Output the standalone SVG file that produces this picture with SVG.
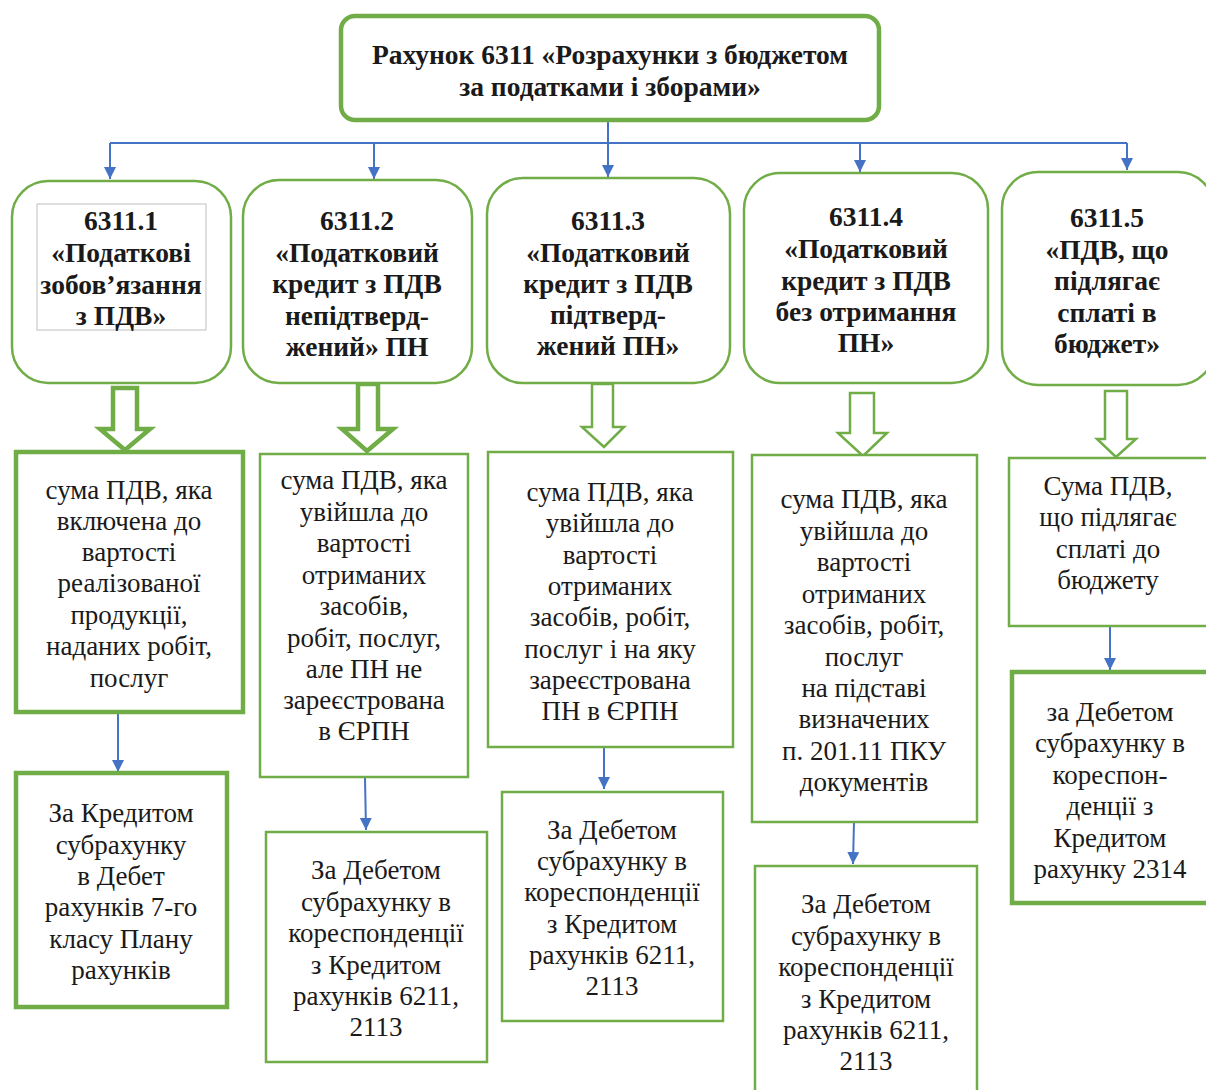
<svg xmlns="http://www.w3.org/2000/svg" width="1206" height="1090" viewBox="0 0 1206 1090">
<style>
.g{fill:#fff;stroke:#70AD47}
.thick{stroke-width:4.5}
.thin{stroke-width:2.5}
.c{fill:none;stroke:#4472C4;stroke-width:2}
.b{font-family:"Liberation Serif",serif;font-weight:bold;font-size:27.5px;fill:#1a1a1a;text-anchor:middle}
.r{font-family:"Liberation Serif",serif;font-size:27px;fill:#1a1a1a;text-anchor:middle}
.t{font-family:"Liberation Serif",serif;font-weight:bold;font-size:27.5px;fill:#1a1a1a;text-anchor:middle}
</style>
<defs>
<marker id="ah" markerWidth="14" markerHeight="14" refX="12" refY="6" orient="auto" markerUnits="userSpaceOnUse">
<path d="M0,0 L12,6 L0,12 z" fill="#4472C4"/>
</marker>
</defs>
<rect width="1206" height="1090" fill="#fff"/>

<g id="connectors">
<line class="c" x1="608" y1="120" x2="608" y2="143"/>
<line class="c" x1="110" y1="143" x2="1127" y2="143"/>
<line class="c" x1="110" y1="143" x2="110" y2="179" marker-end="url(#ah)"/>
<line class="c" x1="374" y1="143" x2="374" y2="179" marker-end="url(#ah)"/>
<line class="c" x1="608" y1="143" x2="608" y2="177" marker-end="url(#ah)"/>
<line class="c" x1="860" y1="143" x2="860" y2="172" marker-end="url(#ah)"/>
<line class="c" x1="1127" y1="143" x2="1127" y2="170" marker-end="url(#ah)"/>
<line class="c" x1="118" y1="712" x2="118" y2="772" marker-end="url(#ah)"/>
<line class="c" x1="365" y1="778" x2="366" y2="830" marker-end="url(#ah)"/>
<line class="c" x1="604" y1="747" x2="604" y2="789" marker-end="url(#ah)"/>
<line class="c" x1="854" y1="821" x2="853" y2="864" marker-end="url(#ah)"/>
<line class="c" x1="1110" y1="624" x2="1110" y2="670" marker-end="url(#ah)"/>
<polygon class="g thick" points="113,388 137,388 137,429 150,429 125,450 100,429 113,429"/>
<polygon class="g thick" points="358,384 378,384 378,429 393,429 367,451 342,429 358,429"/>
<polygon class="g thin" points="592,384 613,384 613,427 624,427 604,447 582,427 592,427"/>
<polygon class="g thin" points="850,393 874,393 874,433 887,433 863,456 838,433 850,433"/>
<polygon class="g thin" points="1105,391 1127,391 1127,439 1136,439 1116,457 1097,439 1105,439"/>
</g>

<g id="root">
<rect class="g thick" x="341" y="16" width="538" height="104" rx="14"/>
<text class="t" x="610" y="64">Рахунок 6311 «Розрахунки з бюджетом</text>
<text class="t" x="610" y="96">за податками і зборами»</text>
</g>

<g id="n6311_1">
<rect class="g thin" x="12" y="181" width="219" height="202" rx="36"/>
<rect x="37" y="204" width="169" height="126" fill="#fff" stroke="#bfbfbf" stroke-width="1"/>
<text class="b" x="121" y="230">6311.1</text>
<text class="b" x="121" y="262">«Податкові</text>
<text class="b" x="121" y="294">зобов’язання</text>
<text class="b" x="121" y="325">з ПДВ»</text>
</g>

<g id="n6311_2">
<rect class="g thin" x="243" y="180" width="229" height="203" rx="36"/>
<text class="b" x="357" y="230">6311.2</text>
<text class="b" x="357" y="262">«Податковий</text>
<text class="b" x="357" y="293">кредит з ПДВ</text>
<text class="b" x="357" y="325">непідтверд-</text>
<text class="b" x="357" y="356">жений» ПН</text>
</g>

<g id="n6311_3">
<rect class="g thin" x="487" y="178" width="243" height="205" rx="36"/>
<text class="b" x="608" y="230">6311.3</text>
<text class="b" x="608" y="262">«Податковий</text>
<text class="b" x="608" y="293">кредит з ПДВ</text>
<text class="b" x="608" y="324">підтверд-</text>
<text class="b" x="608" y="355">жений ПН»</text>
</g>

<g id="n6311_4">
<rect class="g thin" x="744" y="173" width="244" height="210" rx="36"/>
<text class="b" x="866" y="226">6311.4</text>
<text class="b" x="866" y="258">«Податковий</text>
<text class="b" x="866" y="290">кредит з ПДВ</text>
<text class="b" x="866" y="321">без отримання</text>
<text class="b" x="866" y="352">ПН»</text>
</g>

<g id="n6311_5">
<rect class="g thin" x="1002" y="172" width="212" height="213" rx="36"/>
<text class="b" x="1107" y="227">6311.5</text>
<text class="b" x="1107" y="259">«ПДВ, що</text>
<text class="b" x="1107" y="290">підлягає</text>
<text class="b" x="1107" y="322">сплаті в</text>
<text class="b" x="1107" y="353">бюджет»</text>
</g>

<g id="d1">
<rect class="g thick" x="16" y="452" width="227" height="260"/>
<text class="r" x="129" y="499">сума ПДВ, яка</text>
<text class="r" x="129" y="530">включена до</text>
<text class="r" x="129" y="561">вартості</text>
<text class="r" x="129" y="592">реалізованої</text>
<text class="r" x="129" y="624">продукції,</text>
<text class="r" x="129" y="655">наданих робіт,</text>
<text class="r" x="129" y="687">послуг</text>
</g>

<g id="d2">
<rect class="g thin" x="260" y="454" width="208" height="323"/>
<text class="r" x="364" y="489">сума ПДВ, яка</text>
<text class="r" x="364" y="521">увійшла до</text>
<text class="r" x="364" y="552">вартості</text>
<text class="r" x="364" y="584">отриманих</text>
<text class="r" x="364" y="615">засобів,</text>
<text class="r" x="364" y="647">робіт, послуг,</text>
<text class="r" x="364" y="678">але ПН не</text>
<text class="r" x="364" y="709">зареєстрована</text>
<text class="r" x="364" y="740">в ЄРПН</text>
</g>

<g id="d3">
<rect class="g thin" x="488" y="452" width="245" height="295"/>
<text class="r" x="610" y="501">сума ПДВ, яка</text>
<text class="r" x="610" y="532">увійшла до</text>
<text class="r" x="610" y="564">вартості</text>
<text class="r" x="610" y="595">отриманих</text>
<text class="r" x="610" y="626">засобів, робіт,</text>
<text class="r" x="610" y="658">послуг і на яку</text>
<text class="r" x="610" y="689">зареєстрована</text>
<text class="r" x="610" y="720">ПН в ЄРПН</text>
</g>

<g id="d4">
<rect class="g thin" x="752" y="455" width="225" height="367"/>
<text class="r" x="864" y="508">сума ПДВ, яка</text>
<text class="r" x="864" y="540">увійшла до</text>
<text class="r" x="864" y="571">вартості</text>
<text class="r" x="864" y="603">отриманих</text>
<text class="r" x="864" y="634">засобів, робіт,</text>
<text class="r" x="864" y="666">послуг</text>
<text class="r" x="864" y="697">на підставі</text>
<text class="r" x="864" y="728">визначених</text>
<text class="r" x="864" y="760">п. 201.11 ПКУ</text>
<text class="r" x="864" y="791">документів</text>
</g>

<g id="d5">
<rect class="g thin" x="1009" y="458" width="205" height="168"/>
<text class="r" x="1108" y="495">Сума ПДВ,</text>
<text class="r" x="1108" y="526">що підлягає</text>
<text class="r" x="1108" y="558">сплаті до</text>
<text class="r" x="1108" y="589">бюджету</text>
</g>

<g id="e1">
<rect class="g thick" x="16" y="773" width="211" height="234"/>
<text class="r" x="121" y="822">За Кредитом</text>
<text class="r" x="121" y="854">субрахунку</text>
<text class="r" x="121" y="885">в Дебет</text>
<text class="r" x="121" y="916">рахунків 7-го</text>
<text class="r" x="121" y="948">класу Плану</text>
<text class="r" x="121" y="979">рахунків</text>
</g>

<g id="e2">
<rect class="g thin" x="266" y="832" width="221" height="230"/>
<text class="r" x="376" y="879">За Дебетом</text>
<text class="r" x="376" y="911">субрахунку в</text>
<text class="r" x="376" y="942">кореспонденції</text>
<text class="r" x="376" y="974">з Кредитом</text>
<text class="r" x="376" y="1005">рахунків 6211,</text>
<text class="r" x="376" y="1036">2113</text>
</g>

<g id="e3">
<rect class="g thin" x="502" y="792" width="221" height="229"/>
<text class="r" x="612" y="839">За Дебетом</text>
<text class="r" x="612" y="870">субрахунку в</text>
<text class="r" x="612" y="901">кореспонденції</text>
<text class="r" x="612" y="933">з Кредитом</text>
<text class="r" x="612" y="964">рахунків 6211,</text>
<text class="r" x="612" y="995">2113</text>
</g>

<g id="e4">
<rect class="g thin" x="755" y="866" width="222" height="240"/>
<text class="r" x="866" y="913">За Дебетом</text>
<text class="r" x="866" y="945">субрахунку в</text>
<text class="r" x="866" y="976">кореспонденції</text>
<text class="r" x="866" y="1008">з Кредитом</text>
<text class="r" x="866" y="1039">рахунків 6211,</text>
<text class="r" x="866" y="1070">2113</text>
</g>

<g id="e5">
<rect class="g thick" x="1012" y="672" width="204" height="231"/>
<text class="r" x="1110" y="721">за Дебетом</text>
<text class="r" x="1110" y="752">субрахунку в</text>
<text class="r" x="1110" y="784">кореспон-</text>
<text class="r" x="1110" y="815">денції з</text>
<text class="r" x="1110" y="847">Кредитом</text>
<text class="r" x="1110" y="878">рахунку 2314</text>
</g>
</svg>
